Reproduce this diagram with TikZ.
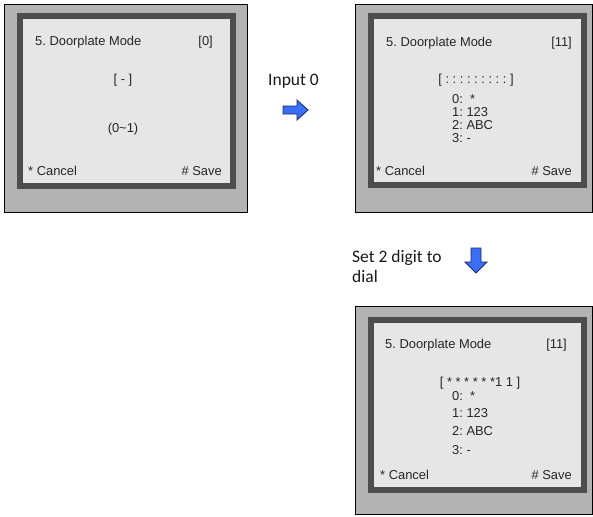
\documentclass[tikz,border=0pt]{standalone}
\usepackage{fontspec}
\setmainfont{Liberation Sans}
\newfontfamily\calib{Carlito}
\frenchspacing
\begin{document}
\begin{tikzpicture}[x=1pt,y=-1pt,
  outerbox/.style={draw=black,line width=0.8pt,fill=panelgray,inner sep=0pt},
  darkbox/.style={fill=framegray,inner sep=0pt},
  screenbox/.style={fill=screengray,inner sep=0pt},
  lcd/.style={font=\fontsize{12.9}{15}\selectfont,inner sep=0pt,text=black!85},
  note/.style={font=\calib\fontsize{17.5}{20}\selectfont,inner sep=0pt,text=black!90},
  blockarrow/.style={fill=arrowblue,draw=arrowedge,line width=0.8pt,line join=miter}
]
\definecolor{panelgray}{HTML}{B3B3B3}
\definecolor{framegray}{HTML}{4D4D4D}
\definecolor{screengray}{HTML}{E6E6E6}
\definecolor{arrowblue}{HTML}{3A6EF5}
\definecolor{arrowedge}{HTML}{1A2A6A}
\fill[white] (0,0) rectangle (593,516);
\useasboundingbox (0,0) rectangle (593,516);

% Panel 1
\node[outerbox,minimum width=243pt,minimum height=208pt] (p1) at (125.5,108) {};
\node[darkbox,minimum width=219pt,minimum height=176pt] (d1) at (126.5,101) {};
\node[screenbox,minimum width=207pt,minimum height=164pt] (s1) at (126.5,101) {};
\node[lcd,anchor=base west] (t1) at (35,46) {5. Doorplate Mode};
\node[lcd,anchor=base east] (v1) at (213,46) {[0]};
\node[lcd,anchor=base] (b1) at (123,83.5) {[ - ]};
\node[lcd,anchor=base] (r1) at (123,132.5) {(0\textasciitilde 1)};
\node[lcd,anchor=base west] (c1) at (28,175.5) {* Cancel};
\node[lcd,anchor=base east] (sv1) at (222,175.5) {\# Save};

% Panel 2
\node[outerbox,minimum width=237pt,minimum height=208pt] (p2) at (473.5,108) {};
\node[darkbox,minimum width=219pt,minimum height=175pt] (d2) at (477.5,100.5) {};
\node[screenbox,minimum width=207pt,minimum height=163pt] (s2) at (477.5,100.5) {};
\node[lcd,anchor=base west] (t2) at (386,46.5) {5. Doorplate Mode};
\node[lcd,anchor=base east] (v2) at (572,46.5) {[11]};
\node[lcd,anchor=base] (b2) at (476,83.5) {[ : : : : : : : : : ]};
\node[lcd,anchor=base west] (o20) at (452,103.5) {0: \ *};
\node[lcd,anchor=base west] (o21) at (452,116.5) {1: 123};
\node[lcd,anchor=base west] (o22) at (452,129.5) {2: ABC};
\node[lcd,anchor=base west] (o23) at (452,142.5) {3: -};
\node[lcd,anchor=base west] (c2) at (376,175.5) {* Cancel};
\node[lcd,anchor=base east] (sv2) at (572,175.5) {\# Save};

% Panel 3
\node[outerbox,minimum width=237pt,minimum height=208pt] (p3) at (473.5,410) {};
\node[darkbox,minimum width=219pt,minimum height=176pt] (d3) at (477.5,405) {};
\node[screenbox,minimum width=207pt,minimum height=164pt] (s3) at (477.5,405) {};
\node[lcd,anchor=base west] (t3) at (385,348.5) {5. Doorplate Mode};
\node[lcd,anchor=base east] (v3) at (567,348.5) {[11]};
\node[lcd,anchor=base] (b3) at (480,386.5) {[ * * * * * *1 1 ]};
\node[lcd,anchor=base west] (o30) at (452,400.5) {0: \ *};
\node[lcd,anchor=base west] (o31) at (452,417.5) {1: 123};
\node[lcd,anchor=base west] (o32) at (452,435.5) {2: ABC};
\node[lcd,anchor=base west] (o33) at (452,454.5) {3: -};
\node[lcd,anchor=base west] (c3) at (380,479.5) {* Cancel};
\node[lcd,anchor=base east] (sv3) at (572,479.5) {\# Save};

% Notes and arrows
\node[note,anchor=base west] (n1) at (268,86) {Input 0};
\draw[blockarrow] (283,106) -- (297,106) -- (297,100) -- (308,110) -- (297,120) -- (297,114) -- (283,114) -- cycle;
\node[note,anchor=base west] (n2) at (352,262) {Set 2 digit to};
\node[note,anchor=base west] (n3) at (352,282) {dial};
\draw[blockarrow] (471,248) -- (481,248) -- (481,262) -- (487,262) -- (476,273) -- (465,262) -- (471,262) -- cycle;
\end{tikzpicture}
\end{document}
